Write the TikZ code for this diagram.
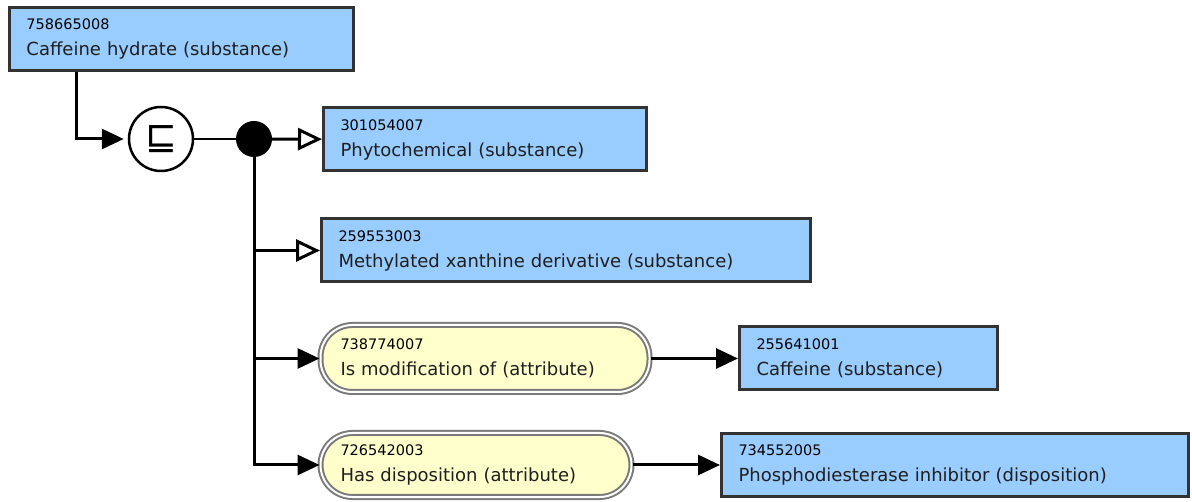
\documentclass[tikz,border=0pt]{standalone}
\usepackage{fontspec}
\setmainfont{DejaVu Sans}
\usepackage{xcolor}
\usepackage{tikz}
\usetikzlibrary{arrows.meta,positioning}

\definecolor{conceptblue}{HTML}{99CCFF}
\definecolor{attrfill}{HTML}{FFFFCC}
\definecolor{boxline}{HTML}{333333}
\definecolor{attrline}{HTML}{7A7A7A}
\newcommand{\sctid}[1]{{\fontsize{14.5}{26}\selectfont\color{black}#1}}

\begin{document}
\begin{tikzpicture}[
  x=1pt, y=-1pt,
  font=\fontsize{18}{26}\selectfont,
  concept/.style={draw=boxline,line width=3pt,fill=conceptblue,align=left,inner xsep=17pt,inner ysep=0pt,minimum height=63pt,text=black!88},
  attr/.style={draw=attrline,double=white,double distance=2pt,line width=2pt,fill=attrfill,rounded corners=32pt,align=left,inner xsep=20pt,inner ysep=0pt,text=black!88},
  arrow/.style={-{Triangle[length=22pt,width=20pt]},line width=3pt},
  isa/.style={-{Triangle[open,length=24pt,width=22pt,fill=white]},line width=3pt},
]
\useasboundingbox (0,0) rectangle (1192,502);

\node[concept,text width=310pt] (ch) at (181.5,39) {\sctid{758665008}\\Caffeine hydrate (substance)};
\node[circle,draw,line width=2.5pt,fill=white,minimum size=64pt,inner sep=0pt] (sub) at (161,139) {\fontsize{38}{38}\selectfont ⊑};
\node[circle,fill=black,minimum size=36pt,inner sep=0pt] (grp) at (254,139) {};

\node[concept,text width=289pt] (phy) at (485,139.5) {\sctid{301054007}\\Phytochemical (substance)};
\node[concept,text width=455pt] (mxd) at (566,250.5) {\sctid{259553003}\\Methylated xanthine derivative (substance)};
\node[attr,text width=289pt,minimum height=67pt] (mod) at (485,358.5) {\sctid{738774007}\\Is modification of (attribute)};
\node[concept,text width=224pt] (caf) at (868.5,358.5) {\sctid{255641001}\\Caffeine (substance)};
\node[attr,text width=271pt,minimum height=64pt] (disp) at (476,465) {\sctid{726542003}\\Has disposition (attribute)};
\node[concept,text width=433pt] (pdi) at (955,465) {\sctid{734552005}\\Phosphodiesterase inhibitor (disposition)};

\draw[arrow,shorten >=4pt] ([xshift=68pt]ch.south west) |- (sub);
\draw[line width=2.5pt] (sub) -- (grp);
\draw[isa] (grp) -- (phy);
\draw[isa] (grp) |- (mxd);
\draw[arrow] (grp) |- (mod);
\draw[arrow] (grp) |- (disp);
\draw[arrow] (mod) -- (caf);
\draw[arrow] (disp) -- (pdi);
\end{tikzpicture}
\end{document}
